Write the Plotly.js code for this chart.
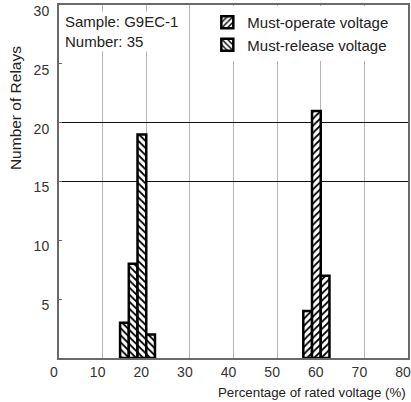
<!DOCTYPE html>
<html>
<head>
<meta charset="utf-8">
<script src="https://cdn.plot.ly/plotly-3.0.1.min.js"></script>
<style>html,body{margin:0;padding:0;background:#fff;}#chart{width:411px;height:402px;}</style>
</head>
<body>
<div id="chart"></div>
<script>
// Data
const operateCenters = [57, 59, 61];
const operateCounts = [4, 21, 7];
const releaseCenters = [15, 17, 19, 21];
const releaseCounts = [3, 8, 19, 2];
const binWidth = 2;
const xTicks = [0, 10, 20, 30, 40, 50, 60, 70, 80];
const yTicks = [5, 10, 15, 20, 25, 30];
const yRuleLines = [15, 20];
const seriesNames = ["Must-operate voltage", "Must-release voltage"];
const sampleNote = "Sample: G9EC-1<br>Number: 35";
const xTitle = "Percentage of rated voltage (%)";
const yTitle = "Number of Relays";

const font = "Liberation Sans, Arial, sans-serif";

const traces = [
  {
    type: "bar", name: seriesNames[0],
    x: operateCenters, y: operateCounts, width: operateCenters.map(() => binWidth),
    marker: { color: "white", line: { color: "black", width: 2.5 },
      pattern: { shape: "/", fgcolor: "black", bgcolor: "white", size: 5, solidity: 0.35 } }
  },
  {
    type: "bar", name: seriesNames[1],
    x: releaseCenters, y: releaseCounts, width: releaseCenters.map(() => binWidth),
    marker: { color: "white", line: { color: "black", width: 2.5 },
      pattern: { shape: "\\", fgcolor: "black", bgcolor: "white", size: 5, solidity: 0.35 } }
  },
  { // invisible trace to carry the dark rule lines at 15 and 20
    type: "scatter", x: [], y: [], yaxis: "y2", showlegend: false, hoverinfo: "skip"
  }
];

const layout = {
  width: 411, height: 402,
  margin: { l: 59, r: 3, t: 5, b: 44 },
  paper_bgcolor: "white", plot_bgcolor: "white",
  font: { family: font, size: 14, color: "#222" },
  barmode: "overlay",
  showlegend: true,
  xaxis: {
    range: [0, 80], tickvals: xTicks, ticks: "", ticklabelshift: -5,
    ticklabeloverflow: "allow",
    showgrid: true, gridcolor: "#b5b5b5", gridwidth: 1, zeroline: false,
    showline: true, linecolor: "#6a6a6a", linewidth: 2, mirror: true,
    tickfont: { size: 14, color: "#333" }
  },
  yaxis: {
    range: [0, 30], tickvals: yTicks, ticks: "inside", ticklen: 3, tickcolor: "#6a6a6a",
    ticklabeloverflow: "allow", ticklabelshift: 6,
    showgrid: false, zeroline: false,
    showline: true, linecolor: "#6a6a6a", linewidth: 2, mirror: true,
    tickfont: { size: 14, color: "#333" }, ticklabelstandoff: 5
  },
  yaxis2: {
    overlaying: "y", range: [0, 30], tickvals: yRuleLines, showticklabels: false,
    ticks: "", showgrid: true, gridcolor: "#111", gridwidth: 1, zeroline: false, showline: false
  },
  legend: {
    x: 0.425, y: 0.997, xanchor: "left", yanchor: "top",
    bgcolor: "white", borderwidth: 0, font: { size: 15, color: "#222" },
    traceorder: "normal", itemwidth: 30
  },
  annotations: [
    { text: sampleNote, xref: "paper", yref: "paper", x: 0.012, y: 0.983,
      xanchor: "left", yanchor: "top", align: "left", showarrow: false,
      bgcolor: "white", font: { size: 15, color: "#222" } },
    { text: xTitle, xref: "paper", yref: "paper", x: 1, xshift: 0, y: 0, yshift: -34,
      xanchor: "right", yanchor: "middle", showarrow: false, font: { size: 13.3, color: "#222" } },
    { text: yTitle, xref: "paper", yref: "paper", x: -0.125, y: 0.709,
      xanchor: "center", yanchor: "middle", textangle: -90, showarrow: false,
      font: { size: 15.5, color: "#222" } }
  ]
};

Plotly.newPlot("chart", traces, layout, { displayModeBar: false, staticPlot: true });
</script>
</body>
</html>
